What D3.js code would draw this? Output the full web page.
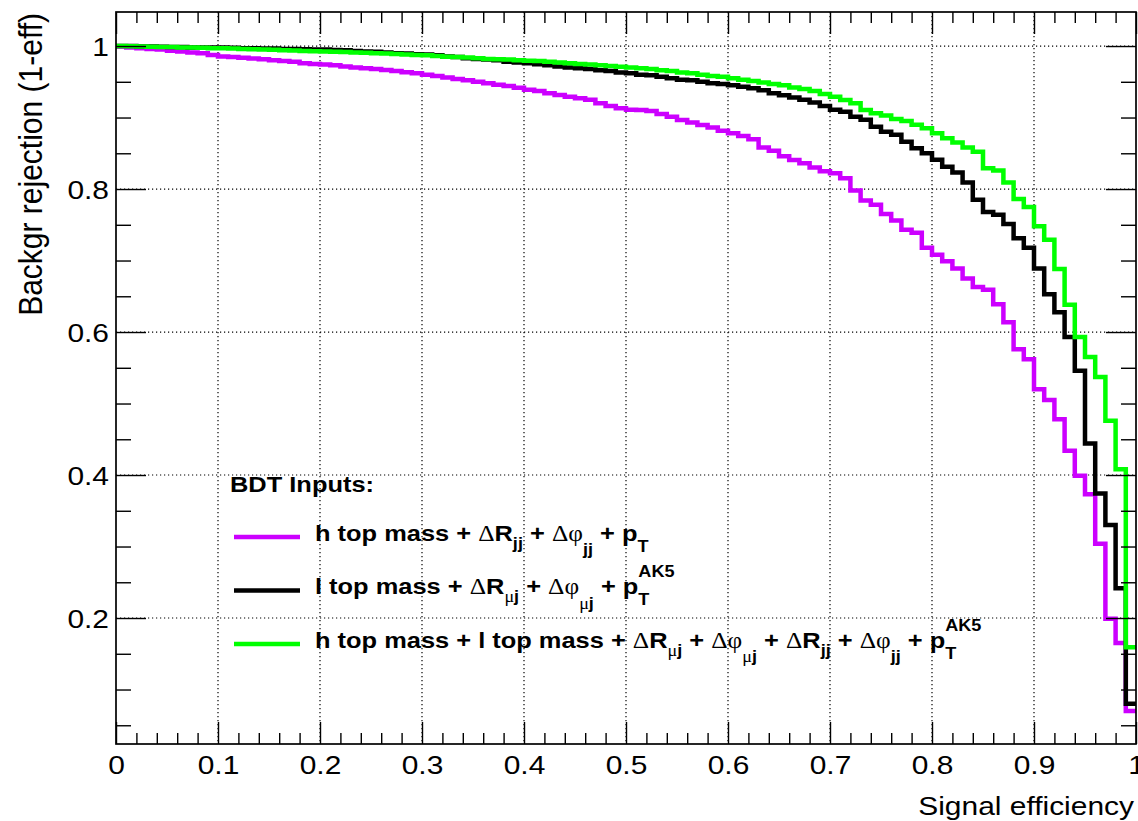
<!DOCTYPE html>
<html><head><meta charset="utf-8">
<script src="https://cdn.jsdelivr.net/npm/d3@7"></script>
<style>
body{margin:0;background:#fff;}
svg{display:block;}
</style></head><body>
<svg id="c" width="1138" height="821"></svg>
<script>
// ---------------- data ----------------
const nBins = 100, effRange = [0, 1];
const yRange = [0.0238, 1.0476];

// h top mass + dRjj + dPhijj + pT   (magenta)
const hTopVals = [
 0.9995,0.998,0.997,0.996,0.995,0.9935,0.9925,0.991,0.990,0.9875,
 0.9855,0.9845,0.9835,0.9825,0.9815,0.980,0.979,0.978,0.976,0.975,
 0.974,0.973,0.9715,0.970,0.969,0.968,0.9665,0.965,0.9635,0.962,
 0.960,0.958,0.956,0.954,0.952,0.950,0.948,0.946,0.944,0.9415,
 0.939,0.937,0.934,0.9315,0.929,0.927,0.925,0.920,0.916,0.913,
 0.911,0.9105,0.909,0.905,0.901,0.8965,0.893,0.8895,0.886,0.8815,
 0.878,0.874,0.8695,0.858,0.8536,0.846,0.8406,0.836,0.830,0.825,
 0.822,0.815,0.798,0.784,0.778,0.765,0.756,0.743,0.739,0.718,
 0.708,0.699,0.689,0.675,0.663,0.659,0.639,0.6135,0.576,0.562,
 0.520,0.505,0.478,0.434,0.399,0.373,0.304,0.199,0.165,0.070];

// l top mass + dRmuj + dPhimuj + pT^AK5   (black)
const lTopVals = [
 1.000,1.000,0.9995,0.9995,0.999,0.9985,0.9985,0.998,0.998,0.998,
 0.998,0.9975,0.997,0.997,0.9965,0.9965,0.996,0.996,0.9955,0.995,
 0.995,0.9945,0.994,0.993,0.9925,0.992,0.991,0.990,0.9895,0.9885,
 0.988,0.987,0.9855,0.9845,0.983,0.982,0.981,0.980,0.978,0.977,
 0.976,0.9745,0.973,0.9715,0.970,0.969,0.968,0.966,0.965,0.963,
 0.962,0.960,0.959,0.957,0.955,0.953,0.952,0.950,0.948,0.947,
 0.945,0.943,0.941,0.938,0.934,0.931,0.928,0.925,0.921,0.916,
 0.911,0.908,0.901,0.897,0.887,0.880,0.876,0.866,0.857,0.850,
 0.841,0.831,0.823,0.809,0.785,0.768,0.764,0.751,0.731,0.718,
 0.689,0.653,0.6275,0.593,0.546,0.444,0.374,0.330,0.2415,0.080];

// h top mass + l top mass + ... (green)
const allVals = [
 1.000,0.9997,0.9994,0.999,0.9988,0.9985,0.998,0.9978,0.9975,0.997,
 0.997,0.9965,0.996,0.9955,0.995,0.9947,0.9942,0.9937,0.9932,0.9928,
 0.9925,0.992,0.9915,0.991,0.9905,0.990,0.9895,0.989,0.988,0.9875,
 0.987,0.986,0.985,0.9845,0.984,0.983,0.982,0.9815,0.981,0.980,
 0.9795,0.979,0.978,0.977,0.976,0.975,0.974,0.973,0.972,0.971,
 0.970,0.969,0.968,0.966,0.965,0.963,0.962,0.960,0.958,0.957,
 0.955,0.953,0.951,0.949,0.947,0.945,0.942,0.940,0.937,0.933,
 0.929,0.9245,0.920,0.9105,0.906,0.903,0.898,0.895,0.890,0.885,
 0.878,0.871,0.865,0.858,0.852,0.829,0.826,0.809,0.786,0.775,
 0.748,0.729,0.688,0.638,0.593,0.565,0.537,0.476,0.408,0.159];

const xMajor = [0,0.1,0.2,0.3,0.4,0.5,0.6,0.7,0.8,0.9,1];
const xTickLabels = ["0","0.1","0.2","0.3","0.4","0.5","0.6","0.7","0.8","0.9","1"];
const yMajor = [0.2,0.4,0.6,0.8,1.0];
const yTickLabels = ["0.2","0.4","0.6","0.8","1"];
const xMinorStep = 0.02, yMinorStep = 0.05;

const seriesColors = ["#cc00ff", "#000000", "#00ff00"];

// ---------------- layout ----------------
const SANS = '"Liberation Sans", Arial, Helvetica, sans-serif';
const SERIF = '"Liberation Serif", "DejaVu Serif", serif';
const SX = 1.13;
const m = {l:116, r:1136, t:12, b:744};
const svg = d3.select("#c");

const x = d3.scaleLinear().domain(effRange).range([m.l, m.r]);
const y = d3.scaleLinear().domain(yRange).range([m.b, m.t]);

const xMinor = d3.range(0, 1.0001, xMinorStep).map(v => +v.toFixed(3)).filter(v => !xMajor.some(M => Math.abs(M - v) < 1e-6));
const yMinor = d3.range(0.05, yRange[1], yMinorStep).map(v => +v.toFixed(3)).filter(v => !yMajor.some(M => Math.abs(M - v) < 1e-6));

// grid
const grid = svg.append("g").attr("stroke", "#000").attr("stroke-width", 1.2).attr("stroke-dasharray", "1.2,2.8");
grid.selectAll("line.gx").data(xMajor.filter(v => v > 0 && v < 1)).join("line")
  .attr("x1", d => x(d)).attr("x2", d => x(d)).attr("y1", m.t).attr("y2", m.b);
grid.selectAll("line.gy").data(yMajor).join("line")
  .attr("y1", d => y(d)).attr("y2", d => y(d)).attr("x1", m.l).attr("x2", m.r);

// curves
const edges = d3.range(nBins + 1).map(i => effRange[0] + (effRange[1] - effRange[0]) * i / nBins);
const line = d3.line().x(d => x(d[0])).y(d => y(d[1])).curve(d3.curveStepAfter);
[hTopVals, lTopVals, allVals].forEach((vals, k) => {
  const pts = vals.map((v, i) => [edges[i], v]);
  pts.push([edges[nBins], vals[nBins - 1]]);
  svg.append("path").datum(pts).attr("d", line)
    .attr("fill", "none").attr("stroke", seriesColors[k]).attr("stroke-width", 4.5)
    .attr("stroke-linejoin", "miter").attr("stroke-linecap", "butt");
});

// axes
function styleAxis(g) {
  g.select(".domain").remove();
  g.selectAll(".tick line").attr("stroke", "#000").attr("stroke-width", 1.4);
}
const bottom = svg.append("g").attr("transform", `translate(0,${m.b})`)
  .call(d3.axisBottom(x).tickValues(xMajor).tickSize(-22).tickPadding(0).tickFormat((d, i) => xTickLabels[i]));
styleAxis(bottom);
bottom.selectAll("text").attr("y", 30).attr("dy", 0).attr("fill", "#000")
  .attr("font-size", 26.5).attr("font-family", SANS).attr("transform", `scale(${SX},1)`);
svg.append("g").attr("transform", `translate(0,${m.b})`)
  .call(d3.axisBottom(x).tickValues(xMinor).tickSize(-11).tickFormat("")).call(styleAxis);
svg.append("g").attr("transform", `translate(0,${m.t})`)
  .call(d3.axisTop(x).tickValues(xMajor).tickSize(-22).tickFormat("")).call(styleAxis);
svg.append("g").attr("transform", `translate(0,${m.t})`)
  .call(d3.axisTop(x).tickValues(xMinor).tickSize(-11).tickFormat("")).call(styleAxis);

const left = svg.append("g").attr("transform", `translate(${m.l},0)`)
  .call(d3.axisLeft(y).tickValues(yMajor).tickSize(-30).tickPadding(6.2).tickFormat((d, i) => yTickLabels[i]));
styleAxis(left);
left.selectAll("text").attr("dy", "0.36em").attr("fill", "#000")
  .attr("font-size", 26.5).attr("font-family", SANS).attr("transform", `scale(${SX},1)`);
svg.append("g").attr("transform", `translate(${m.l},0)`)
  .call(d3.axisLeft(y).tickValues(yMinor).tickSize(-15).tickFormat("")).call(styleAxis);
svg.append("g").attr("transform", `translate(${m.r},0)`)
  .call(d3.axisRight(y).tickValues(yMajor).tickSize(-30).tickFormat("")).call(styleAxis);
svg.append("g").attr("transform", `translate(${m.r},0)`)
  .call(d3.axisRight(y).tickValues(yMinor).tickSize(-15).tickFormat("")).call(styleAxis);

// frame
svg.append("rect").attr("x", m.l).attr("y", m.t).attr("width", m.r - m.l).attr("height", m.b - m.t)
  .attr("fill", "none").attr("stroke", "#000").attr("stroke-width", 1.7);

// axis titles
svg.append("text").attr("transform", `translate(1134,815) scale(${SX},1)`)
  .attr("text-anchor", "end").attr("font-family", SANS).attr("font-size", 26.5).text("Signal efficiency");
svg.append("text").attr("transform", `translate(42,13) scale(${SX},1) rotate(-90)`)
  .attr("text-anchor", "end").attr("font-family", SANS).attr("font-size", 30).text("Backgr rejection (1-eff)");

// legend
const FS = 22.5, SS = 16;
const st = {
  b:  {s: FS, w: "bold", f: SANS, dy: 0},
  g:  {s: FS, w: "normal", f: SERIF, dy: 0},
  rb: {s: SS, w: "bold", f: SANS, dy: 8},
  rg: {s: SS, w: "normal", f: SERIF, dy: 8},
  pb: {s: SS, w: "bold", f: SANS, dy: 15},
  pg: {s: SS, w: "normal", f: SERIF, dy: 15},
  tb: {s: SS, w: "bold", f: SANS, dy: 11},
  ak: {s: SS, w: "bold", f: SANS, dy: -17, stack: true}
};
function rich(px, py, pieces) {
  const g = svg.append("g").attr("transform", `translate(${px},${py}) scale(${SX},1)`);
  let cx = 0, lastStart = 0;
  pieces.forEach(([t, k]) => {
    const s = st[k];
    const xx = s.stack ? lastStart : cx;
    const el = g.append("text").attr("x", xx).attr("y", s.dy).style("white-space", "pre")
      .attr("font-size", s.s).attr("font-weight", s.w).attr("font-family", s.f).text(t);
    const w = el.node().getComputedTextLength();
    if (!s.stack) { lastStart = cx; cx += w; } else { cx = Math.max(cx, xx + w); }
  });
}
const legendHeader = "BDT Inputs:";
const legendEntries = [
  [["h top mass + ","b"],["Δ","g"],["R","b"],["jj","rb"],[" + ","b"],["Δφ","g"],["jj","pb"],[" + p","b"],["T","tb"]],
  [["l top mass + ","b"],["Δ","g"],["R","b"],["μ","rg"],["j","rb"],[" + ","b"],["Δφ","g"],["μ","pg"],["j","pb"],[" + p","b"],["T","tb"],["AK5","ak"]],
  [["h top mass + l top mass + ","b"],["Δ","g"],["R","b"],["μ","rg"],["j","rb"],[" + ","b"],["Δφ","g"],["μ","pg"],["j","pb"],[" + ","b"],["Δ","g"],["R","b"],["jj","rb"],[" + ","b"],["Δφ","g"],["jj","pb"],[" + p","b"],["T","tb"],["AK5","ak"]]
];
svg.append("text").attr("transform", `translate(230,491.5) scale(${SX},1)`)
  .attr("font-family", SANS).attr("font-weight", "bold").attr("font-size", FS).text(legendHeader);
const entryY = [537, 590.5, 644];
legendEntries.forEach((pieces, i) => {
  svg.append("line").attr("x1", 234).attr("x2", 300).attr("y1", entryY[i]).attr("y2", entryY[i])
    .attr("stroke", seriesColors[i]).attr("stroke-width", 4.5);
  rich(315, entryY[i] + 3.5, pieces);
});
</script>
</body></html>
